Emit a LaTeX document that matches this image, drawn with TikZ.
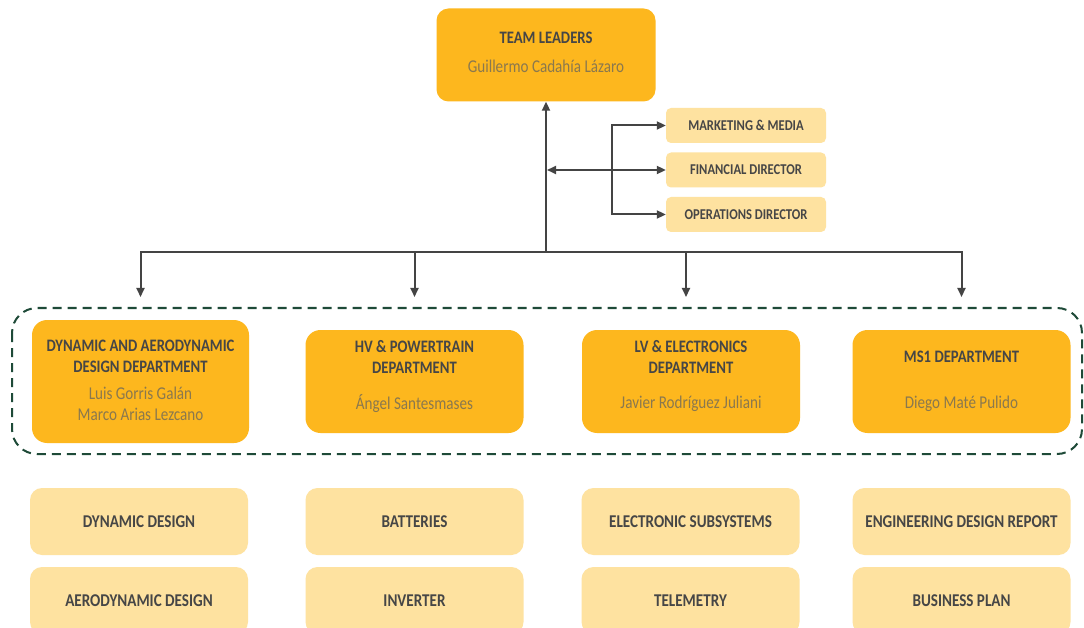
\documentclass[tikz,border=0pt]{standalone}
\usepackage{fontspec}
\setmainfont{Carlito}[FakeStretch=0.84]
\usepackage{xcolor}
\definecolor{teamorange}{RGB}{253, 183, 30}
\definecolor{teamorange-light}{RGB}{254, 226, 160}
\definecolor{teamgrey}{RGB}{70, 70, 70}
\definecolor{teambrown}{RGB}{138, 120, 78}
\definecolor{teamgreen}{RGB}{30, 74, 56}
\definecolor{teamarrow}{RGB}{68, 68, 68}
\usetikzlibrary{arrows.meta}
\tikzset{
  % --- BOXES ---
  lead-box/.style={
    fill=teamorange,
    rounded corners=12pt,
    minimum width=219pt,
    minimum height=93pt
  },
  staff-box/.style={
    fill=teamorange-light,
    rounded corners=5pt,
    minimum width=160pt,
    minimum height=35pt,
    text=teamgrey,
    font=\fontsize{15}{17}\selectfont\bfseries
  },
  dept-box/.style={
    fill=teamorange,
    rounded corners=15pt,
    minimum width=218pt,
    minimum height=103pt
  },
  area-box/.style={
    fill=teamorange-light,
    rounded corners=12pt,
    minimum width=218pt,
    minimum height=67pt,
    text=teamgrey,
    font=\fontsize{18}{21}\selectfont\bfseries
  },
  % --- TEXTS ---
  title-text/.style={
    text=teamgrey,
    font=\fontsize{17.5}{21}\selectfont\bfseries,
    align=center,
    inner sep=0pt
  },
  name-text/.style={
    text=teambrown,
    font=\fontsize{18}{21}\selectfont,
    align=center,
    inner sep=0pt
  },
  % --- ARROWS ---
  arrw/.style={
    draw=teamarrow,
    line width=2pt,
    >={Triangle[length=9pt, width=8pt]},
    ->
  },
  group-box/.style={
    draw=teamgreen,
    line width=2pt,
    dash pattern=on 9pt off 6pt,
    rounded corners=25pt
  },
}

\begin{document}
\begin{tikzpicture}[x=1pt, y=-1pt]

  \useasboundingbox (0, 0) rectangle (1084, 628);
  \clip (0, 0) rectangle (1084, 628);
  \fill[white] (0, 0) rectangle (1084, 628);

  % --- team leaders
  \node[lead-box] (lead) at (546, 55) {};
  \node[title-text] (lead-title) at ([yshift=17pt]lead.center) {TEAM LEADERS};
  \node[name-text]  (lead-name)  at ([yshift=-11pt]lead.center) {Guillermo Cadahía Lázaro};
  % --- staff
  \node[staff-box] (mkt) at (746, 125.5) {MARKETING \& MEDIA};
  \node[staff-box] (fin) at (746, 170) {FINANCIAL DIRECTOR};
  \node[staff-box] (ops) at (746, 214.5) {OPERATIONS DIRECTOR};
  % --- departments
  \draw[group-box] (12, 308) rectangle (1082, 454);
  \node[dept-box, minimum width=217pt, minimum height=123pt] (dad) at (140.5, 381.5) {};
  \node[dept-box] (hv)  at (414.5, 381.5) {};
  \node[dept-box] (lv)  at (691, 381.5) {};
  \node[dept-box] (ms1) at (961.5, 381.5) {};
  \node[title-text] (dad-title) at ([yshift=25pt]dad.center) {DYNAMIC AND AERODYNAMIC\\DESIGN DEPARTMENT};
  \node[name-text]  (dad-name)  at ([yshift=-22pt]dad.center) {Luis Gorris Galán\\Marco Arias Lezcano};
  \node[title-text] (hv-title)  at ([yshift=25pt]hv.center) {HV \& POWERTRAIN\\DEPARTMENT};
  \node[name-text]  (hv-name)   at ([yshift=-22pt]hv.center) {Ángel Santesmases};
  \node[title-text] (lv-title)  at ([yshift=25pt]lv.center) {LV \& ELECTRONICS\\DEPARTMENT};
  \node[name-text]  (lv-name)   at ([yshift=-22pt]lv.center) {Javier Rodríguez Juliani};
  \node[title-text] (ms1-title) at ([yshift=25pt]ms1.center) {MS1 DEPARTMENT};
  \node[name-text]  (ms1-name)  at ([yshift=-22pt]ms1.center) {Diego Maté Pulido};
  % --- areas
  \node[area-box] (dyn)  at (139, 521.5)   {DYNAMIC DESIGN};
  \node[area-box] (aero) at (139, 600.5)   {AERODYNAMIC DESIGN};
  \node[area-box] (bat)  at (414.5, 521.5) {BATTERIES};
  \node[area-box] (inv)  at (414.5, 600.5) {INVERTER};
  \node[area-box] (elec) at (690.5, 521.5) {ELECTRONIC SUBSYSTEMS};
  \node[area-box] (tele) at (690.5, 600.5) {TELEMETRY};
  \node[area-box] (edr)  at (961.5, 521.5) {ENGINEERING DESIGN REPORT};
  \node[area-box] (bp)   at (961.5, 600.5) {BUSINESS PLAN};
  % --- arrows
  \coordinate (trunk)  at (546, 252);
  \coordinate (branch) at (612, 170);
  \coordinate (drop)   at (0, 297);
  \draw[arrw] (trunk) -- (lead.south);
  \draw[arrw, <->] ([xshift=1pt]trunk |- fin.west) -- (fin.west);
  \draw[arrw, <->] (mkt.west) -- (branch |- mkt.west) -- (branch |- ops.west) -- (ops.west);
  \draw[arrw, <->] (dad.north |- drop) -- (dad.north |- trunk) -- (ms1.north |- trunk) -- (ms1.north |- drop);
  \draw[arrw] (hv.north |- trunk) -- (hv.north |- drop);
  \draw[arrw] ([xshift=-5pt]lv.north |- trunk) -- ([xshift=-5pt]lv.north |- drop);

\end{tikzpicture}
\end{document}
